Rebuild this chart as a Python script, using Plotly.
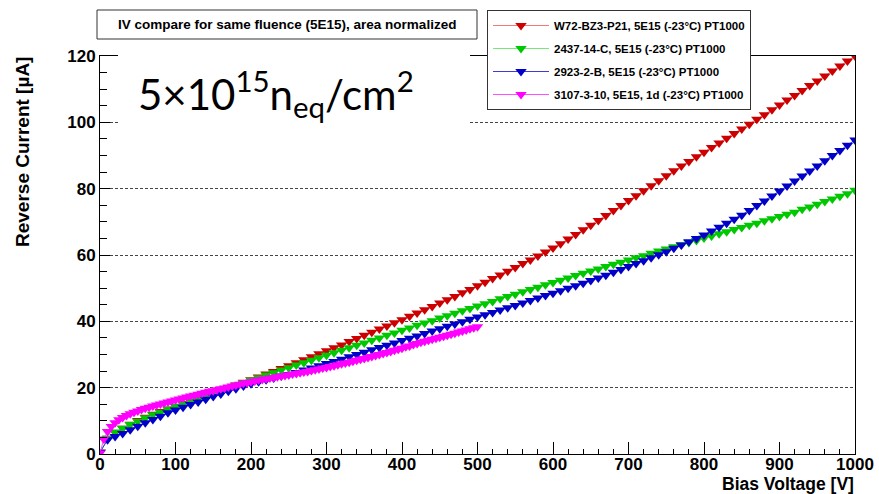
import plotly.graph_objects as go

# ---------------- data ----------------
volt_10 = list(range(0, 1001, 10))
volt_5 = list(range(0, 501, 5))

red_I = [0.5, 4.5, 6.5, 7.8, 9.0, 10.1, 11.1, 12.0, 12.8, 13.6,
         14.4, 15.2, 16.0, 16.8, 17.6, 18.4, 19.2, 20.0, 20.8, 21.6,
         22.4, 23.2, 24.1, 24.9, 25.8, 26.6, 27.5, 28.4, 29.3, 30.2,
         31.1, 32.0, 32.9, 33.9, 34.8, 35.8, 36.7, 37.7, 38.6, 39.6,
         40.5, 41.5, 42.5, 43.5, 44.5, 45.5, 46.5, 47.5, 48.6, 49.6,
         50.7, 51.8, 52.9, 54.0, 55.1, 56.2, 57.4, 58.5, 59.7, 60.9,
         62.1, 63.4, 64.8, 66.2, 67.6, 69.0, 70.4, 71.9, 73.4, 74.9,
         76.4, 77.9, 79.4, 80.9, 82.4, 83.9, 85.4, 86.8, 88.2, 89.6,
         91.0, 92.4, 93.8, 95.2, 96.6, 98.0, 99.4, 100.9, 102.3, 103.8,
         105.2, 106.7, 108.1, 109.6, 111.1, 112.5, 114.0, 115.5, 117.0, 118.5,
         120.0]

green_I = [0.5, 4.8, 6.6, 7.8, 8.9, 9.9, 10.9, 11.8, 12.6, 13.5,
           14.3, 15.1, 15.9, 16.7, 17.5, 18.3, 19.1, 19.9, 20.7, 21.5,
           22.3, 23.0, 23.8, 24.5, 25.3, 26.0, 26.8, 27.5, 28.3, 29.0,
           29.8, 30.5, 31.3, 32.0, 32.8, 33.5, 34.3, 35.0, 35.8, 36.5,
           37.3, 38.0, 38.8, 39.5, 40.2, 41.0, 41.7, 42.4, 43.2, 43.9,
           44.6, 45.3, 46.0, 46.8, 47.5, 48.2, 48.9, 49.6, 50.3, 51.0,
           51.7, 52.4, 53.1, 53.8, 54.5, 55.2, 55.8, 56.5, 57.2, 57.8,
           58.5, 59.2, 59.8, 60.5, 61.2, 61.8, 62.5, 63.1, 63.8, 64.4,
           65.1, 65.7, 66.4, 67.0, 67.7, 68.3, 69.0, 69.6, 70.3, 70.9,
           71.6, 72.3, 72.9, 73.8, 74.5, 75.3, 76.1, 76.9, 77.7, 78.5,
           79.5]

blue_I = [0.5, 4.3, 5.3, 6.2, 7.3, 8.4, 9.4, 10.4, 11.4, 12.4,
          13.3, 14.1, 14.9, 15.7, 16.5, 17.3, 18.1, 18.9, 19.7, 20.5,
          21.2, 21.8, 22.4, 22.9, 23.5, 24.0, 24.6, 25.3, 25.9, 26.6,
          27.3, 27.9, 28.6, 29.3, 30.0, 30.7, 31.4, 32.1, 32.8, 33.5,
          34.2, 34.9, 35.6, 36.3, 37.1, 37.8, 38.5, 39.2, 39.9, 40.6,
          41.3, 42.0, 42.7, 43.4, 44.1, 44.8, 45.5, 46.3, 47.0, 47.8,
          48.5, 49.2, 50.0, 50.7, 51.5, 52.3, 53.1, 53.9, 54.8, 55.6,
          56.5, 57.4, 58.3, 59.2, 60.1, 61.0, 62.0, 63.0, 64.0, 65.0,
          66.0, 67.2, 68.4, 69.6, 70.8, 72.0, 73.4, 74.9, 76.3, 77.8,
          79.3, 80.8, 82.3, 83.8, 85.3, 86.8, 88.4, 90.0, 91.5, 93.1,
          94.7]

magenta_I = [0.3, 4.5, 6.8, 8.3, 9.4, 10.3, 11.0, 11.6, 12.1, 12.6,
             13.0, 13.4, 13.8, 14.1, 14.5, 14.8, 15.1, 15.4, 15.7, 16.0,
             16.3, 16.6, 16.9, 17.2, 17.5, 17.7, 18.0, 18.3, 18.6, 18.9,
             19.1, 19.4, 19.7, 19.9, 20.2, 20.5, 20.7, 21.0, 21.3, 21.5,
             21.8, 22.0, 22.3, 22.5, 22.7, 22.9, 23.1, 23.3, 23.5, 23.7,
             23.9, 24.1, 24.3, 24.5, 24.7, 24.9, 25.2, 25.4, 25.6, 25.9,
             26.1, 26.4, 26.6, 26.9, 27.2, 27.4, 27.7, 28.0, 28.3, 28.6,
             28.8, 29.1, 29.4, 29.7, 30.0, 30.3, 30.6, 30.9, 31.3, 31.6,
             31.9, 32.3, 32.6, 33.0, 33.3, 33.7, 34.0, 34.3, 34.6, 34.9,
             35.2, 35.5, 35.8, 36.1, 36.4, 36.8, 37.1, 37.4, 37.8, 38.1,
             38.4]

series_names = ["W72-BZ3-P21, 5E15 (-23°C) PT1000",
                "2437-14-C, 5E15 (-23°C) PT1000",
                "2923-2-B, 5E15 (-23°C) PT1000",
                "3107-3-10, 5E15, 1d (-23°C) PT1000"]
series_x = [volt_10, volt_10, volt_10, volt_5]
series_y = [red_I, green_I, blue_I, magenta_I]
marker_colors = ["rgb(204,0,0)", "rgb(0,200,0)", "rgb(0,0,200)", "rgb(255,0,255)"]
line_colors = ["rgb(240,120,120)", "rgb(120,230,120)", "rgb(60,60,220)", "rgb(255,80,255)"]

x_tickvals = list(range(0, 1001, 100))
y_tickvals = list(range(0, 121, 20))

title_text = "IV compare for same fluence (5E15), area normalized"
big_text = "5×10<sup>15</sup>n<sub>eq</sub>/cm<sup>2</sup>"

# ---------------- figure ----------------
W, H = 879, 494
ML, MR, MT, MB = 100, 24, 56, 40
PW, PH = W - ML - MR, H - MT - MB


def px(xp):
    return (xp - ML) / PW


def py(yp):
    return (H - MB - yp) / PH


fig = go.Figure()
for i in range(4):
    fig.add_trace(go.Scatter(
        x=series_x[i], y=series_y[i], name=series_names[i],
        mode="lines+markers", legendgroup=str(i),
        line=dict(color=line_colors[i], width=1),
        marker=dict(symbol="triangle-down", size=10, color=marker_colors[i],
                    line=dict(width=0)),
    ))

bold = dict(family="Liberation Sans, Arial, sans-serif", color="black", weight="bold")

fig.update_layout(
    width=W, height=H,
    margin=dict(l=ML, r=MR, t=MT, b=MB, pad=0, autoexpand=False),
    paper_bgcolor="white", plot_bgcolor="white",
    showlegend=True,
    legend=dict(
        x=px(487), y=py(10), xanchor="left", yanchor="top",
        bgcolor="white", bordercolor="#333", borderwidth=1,
        font=dict(family="Liberation Sans, Arial, sans-serif", size=11.5,
                  color="black", weight="bold"),
        tracegroupgap=4, itemwidth=56,
    ),
    xaxis=dict(
        range=[0, 1000], tickvals=x_tickvals, ticktext=[str(v) for v in x_tickvals],
        showgrid=False, zeroline=False, automargin=False,
        showline=True, linecolor="black", linewidth=1, mirror=True,
        ticks="inside", ticklen=12, tickcolor="black", tickwidth=1,
        ticklabelstandoff=-5,
        minor=dict(ticks="inside", ticklen=5, dtick=20, tick0=0, tickcolor="black", showgrid=False),
        tickfont=dict(size=17, **bold),
    ),
    yaxis=dict(
        range=[0, 120], tickvals=y_tickvals, ticktext=[str(v) for v in y_tickvals],
        showgrid=True, gridcolor="#444", gridwidth=1, griddash="3px,2px",
        zeroline=False, automargin=False,
        showline=True, linecolor="black", linewidth=1, mirror=True,
        ticks="inside", ticklen=10, tickcolor="black", tickwidth=1,
        minor=dict(ticks="inside", ticklen=7, dtick=5, tick0=0, tickcolor="black", showgrid=False),
        tickfont=dict(size=17, **bold),
    ),
)

shapes = []
# white patch behind the big fluence label (hides frame + grid there)
shapes.append(dict(type="rect", xref="paper", yref="paper",
                   x0=px(118), x1=px(470), y0=py(125), y1=py(52),
                   fillcolor="white", line=dict(width=0), layer="above"))
# title box
shapes.append(dict(type="rect", xref="paper", yref="paper",
                   x0=px(97), x1=px(477), y0=py(39), y1=py(10),
                   fillcolor="white", line=dict(color="#333", width=1), layer="above"))
fig.update_layout(shapes=shapes)

annotations = [
    dict(text=title_text, xref="paper", yref="paper", x=px(287), y=py(24.5),
         xanchor="center", yanchor="middle", showarrow=False,
         font=dict(size=13.5, **bold)),
    dict(text=big_text, xref="paper", yref="paper", x=px(136), y=py(93),
         xanchor="left", yanchor="middle", showarrow=False,
         font=dict(family="Lato, sans-serif", size=42, color="black")),
    dict(text="Reverse Current [µA]", xref="paper", yref="paper", x=px(22), y=py(55),
         xanchor="center", yanchor="top", textangle=-90, showarrow=False,
         font=dict(size=19, **bold)),
    dict(text="Bias Voltage [V]", xref="paper", yref="paper", x=px(856), y=py(484),
         xanchor="right", yanchor="middle", showarrow=False,
         font=dict(size=17.5, **bold)),
]
fig.update_layout(annotations=annotations)

fig.write_html("out.html")
